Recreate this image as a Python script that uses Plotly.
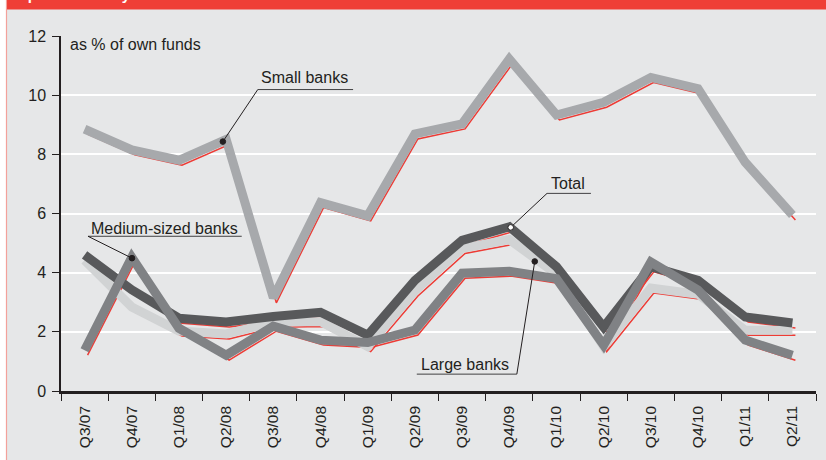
import plotly.graph_objects as go

quarters = ['Q3/07', 'Q4/07', 'Q1/08', 'Q2/08', 'Q3/08', 'Q4/08', 'Q1/09', 'Q2/09',
            'Q3/09', 'Q4/09', 'Q1/10', 'Q2/10', 'Q3/10', 'Q4/10', 'Q1/11', 'Q2/11']

# as % of own funds
small_banks = [8.85, 8.15, 7.8, 8.5, 3.15, 6.37, 5.92, 8.69, 9.03, 11.22, 9.33, 9.76, 10.6, 10.22, 7.73, 5.95]
medium_banks = [1.38, 4.52, 2.12, 1.21, 2.19, 1.72, 1.64, 2.06, 3.98, 4.05, 3.8, 1.55, 4.36, 3.41, 1.72, 1.21]
total = [4.6, 3.42, 2.46, 2.33, 2.52, 2.66, 1.89, 3.74, 5.09, 5.55, 4.2, 2.16, 4.2, 3.74, 2.5, 2.3]
large_banks = [4.42, 2.84, 2.03, 1.93, 2.32, 2.35, 1.5, 3.38, 4.82, 5.12, 3.95, 1.5, 3.48, 3.27, 2.05, 2.05]

y_ticks = [0, 2, 4, 6, 8, 10, 12]

# drawing order: large, total, medium, small (small on top)
series = [
    ('Large banks', large_banks, '#d1d3d4'),
    ('Total', total, '#58595b'),
    ('Medium-sized banks', medium_banks, '#808285'),
    ('Small banks', small_banks, '#a7a9ac'),
]

RED = '#ed3b35'
BG = '#e6e7e8'
INK = '#231f20'
FONT = 'Arial, Liberation Sans, sans-serif'

# red drop shadow: same data on a hidden axis pair shifted ~5px down, ~3px right
shift_y = 5 / 29.6
shift_x = 3 / 47.2

fig = go.Figure()
for name, vals, color in series:
    fig.add_trace(go.Scatter(x=quarters, y=vals, mode='lines', xaxis='x', yaxis='y',
                             line=dict(color=RED, width=1.5), hoverinfo='skip'))
for name, vals, color in series:
    fig.add_trace(go.Scatter(x=quarters, y=vals, mode='lines', name=name,
                             xaxis='x2', yaxis='y2',
                             line=dict(color=color, width=9)))

fig.update_layout(
    width=826, height=460,
    margin=dict(l=61, r=10, t=36, b=69, pad=0),
    paper_bgcolor=BG, plot_bgcolor=BG,
    showlegend=False,
    font=dict(family=FONT, size=16, color=INK),
    xaxis=dict(type='category', categoryorder='array', categoryarray=quarters,
               range=[-0.5 - shift_x, 15.5 - shift_x], visible=False, showgrid=False),
    yaxis=dict(range=[shift_y, 12 + shift_y], visible=False, showgrid=False, zeroline=False),
    xaxis2=dict(type='category', categoryorder='array', categoryarray=quarters,
                overlaying='x', anchor='y2', side='bottom',
                range=[-0.5, 15.5], tickson='boundaries', ticks='outside', ticklen=7,
                tickwidth=1, tickcolor=INK, tickangle=-90, ticklabelstandoff=6,
                tickfont=dict(size=15.5, color=INK),
                showline=True, linecolor=INK, linewidth=2.5, showgrid=False),
    yaxis2=dict(range=[0, 12], tickvals=y_ticks, overlaying='y', anchor='x2', side='left',
                ticks='outside', ticklen=7, tickwidth=1, tickcolor=INK, ticklabelstandoff=3,
                tickfont=dict(size=16, color=INK),
                showline=True, linecolor=INK, linewidth=1.5,
                showgrid=True, gridcolor='white', gridwidth=1.5, zeroline=False),
)

# frame: white strip at left, pink rule, red title banner
fig.add_shape(type='rect', xref='paper', yref='paper', x0=-0.09, x1=-0.0725, y0=-0.3, y1=1.2,
              line_width=0, fillcolor='white')
fig.add_shape(type='line', xref='paper', yref='paper', x0=-0.0722, x1=-0.0722, y0=-0.3, y1=1.2,
              line=dict(color='#f3a19b', width=1.2))
fig.add_shape(type='rect', xref='paper', yref='paper', x0=-0.0715, x1=1.02, y0=1.0745, y1=1.2,
              line_width=0, fillcolor='#ef3e36')
# title sits mostly above the page edge, only its descenders show (as in the source)
fig.add_annotation(xref='paper', yref='paper', x=-0.062, y=1.0884, xanchor='left', yanchor='bottom',
                   text='<b>Open FX risk by bank size</b>', showarrow=False,
                   font=dict(size=15, color='white'))

fig.add_annotation(xref='x2', yref='y2', x=-0.352, y=11.7, xanchor='left', yanchor='middle',
                   text='as % of own funds', showarrow=False)

# callout labels: (text, text x, text y, underline x0, x1, y, dot x, dot y, dot fill, leader end)
callouts = [
    ('Small banks', 4.67, 10.59, 3.67, 5.69, 10.19, 2.93, 8.43, INK, 'left'),
    ('Medium-sized banks', 1.70, 5.50, 0.072, 3.33, 5.23, 1.004, 4.49, INK, 'left'),
    ('Total', 10.24, 7.02, 9.80, 10.73, 6.68, 9.03, 5.53, 'white', 'left'),
    ('Large banks', 8.06, 0.88, 7.04, 9.16, 0.57, 9.54, 4.38, INK, 'right'),
]
for text, tx, ty, ux0, ux1, uy, dx, dy, fill, end in callouts:
    fig.add_annotation(xref='x2', yref='y2', x=tx, y=ty, text=text, showarrow=False,
                       xanchor='center', yanchor='middle')
    fig.add_shape(type='line', xref='x2', yref='y2', x0=ux0, x1=ux1, y0=uy, y1=uy,
                  line=dict(color='#414042', width=1))
    lx = ux0 if end == 'left' else ux1
    fig.add_shape(type='line', xref='x2', yref='y2', x0=lx, x1=dx, y0=uy, y1=dy,
                  line=dict(color=INK, width=1))
    fig.add_shape(type='circle', xref='x2', yref='y2', xsizemode='pixel', ysizemode='pixel',
                  xanchor=dx, yanchor=dy, x0=-2.8, x1=2.8, y0=-2.8, y1=2.8,
                  fillcolor=fill, line=dict(color=INK, width=1))

# drop the browser's default 8px body margin so the figure sits at the page corner
fig.write_html('out.html', config={'displayModeBar': False},
               post_script="document.body.style.margin='0';")
